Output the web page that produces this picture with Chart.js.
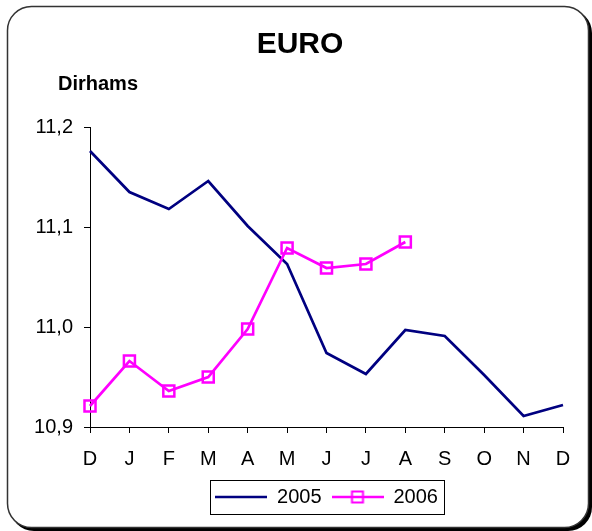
<!DOCTYPE html>
<html>
<head>
<meta charset="utf-8">
<script src="https://cdn.jsdelivr.net/npm/chart.js@4"></script>
<style>
  html, body { margin: 0; padding: 0; background: #fff; }
</style>
</head>
<body>
<canvas id="grafico" width="592" height="531"></canvas>
<script>
const meses = ['D', 'J', 'F', 'M', 'A', 'M', 'J', 'J', 'A', 'S', 'O', 'N', 'D'];
const euro2005 = [11.176, 11.135, 11.118, 11.146, 11.101, 11.063, 10.974, 10.953, 10.997, 10.991, 10.952, 10.911, 10.922];
const euro2006 = [10.921, 10.966, 10.936, 10.950, 10.998, 11.079, 11.059, 11.063, 11.085, null, null, null, null];
const ticksY = [10.9, 11.0, 11.1, 11.2];

const fuente = "'Liberation Sans', Arial, sans-serif";

// muestras de leyenda: linea (y cuadro para 2006)
function muestra(color, conCuadro) {
  const c = document.createElement('canvas');
  c.width = 52; c.height = 14;
  const g = c.getContext('2d');
  g.strokeStyle = color;
  g.lineWidth = 2.5;
  g.beginPath(); g.moveTo(0, 7); g.lineTo(52, 7); g.stroke();
  if (conCuadro) { g.lineWidth = 2; g.strokeRect(20.5, 1.5, 11, 11); }
  return c;
}
const muestras = [muestra('#000080', false), muestra('#FF00FF', true)];

// marco redondeado, titulo y "Dirhams"
const decorado = {
  id: 'decorado',
  beforeDraw(chart) {
    const ctx = chart.ctx;
    ctx.save();
    ctx.fillStyle = '#fff';
    ctx.fillRect(0, 0, chart.width, chart.height);
    ctx.fillStyle = '#000';
    ctx.beginPath();
    ctx.roundRect(10, 9, 582, 522, 24);
    ctx.fill();
    ctx.fillStyle = '#fff';
    ctx.strokeStyle = '#333';
    ctx.lineWidth = 1.5;
    ctx.beginPath();
    ctx.roundRect(7.5, 6.5, 581, 521, 24);
    ctx.fill();
    ctx.stroke();
    ctx.fillStyle = '#000';
    ctx.textBaseline = 'middle';
    ctx.textAlign = 'center';
    ctx.font = 'bold 30px ' + fuente;
    ctx.fillText('EURO', 300, 45);
    ctx.textAlign = 'left';
    ctx.font = 'bold 20px ' + fuente;
    ctx.fillText('Dirhams', 58, 84);
    ctx.restore();
  },
  afterDraw(chart) {
    const cajas = chart.legend.legendHitBoxes;
    if (!cajas || !cajas.length) return;
    const izq = Math.min(...cajas.map(b => b.left));
    const der = Math.max(...cajas.map(b => b.left + b.width));
    const cy = cajas[0].top + cajas[0].height / 2;
    const ctx = chart.ctx;
    ctx.save();
    ctx.strokeStyle = '#000';
    ctx.lineWidth = 1;
    ctx.strokeRect(Math.round(izq - 5) + 0.5, Math.round(cy - 17) + 0.5, Math.round(der - izq + 11), 34);
    ctx.restore();
  }
};

const ctx = document.getElementById('grafico').getContext('2d');
const grafico = new Chart(ctx, {
  type: 'line',
  data: {
    labels: meses,
    datasets: [
      {
        label: '2005',
        data: euro2005,
        borderColor: '#000080',
        borderWidth: 2.7,
        pointRadius: 0,
        tension: 0,
        order: 1
      },
      {
        label: '2006',
        data: euro2006,
        borderColor: '#FF00FF',
        backgroundColor: 'rgba(0,0,0,0)',
        borderWidth: 2.7,
        pointStyle: 'rect',
        pointRadius: 7.8,
        pointBorderWidth: 2.5,
        pointBorderColor: '#FF00FF',
        pointBackgroundColor: 'rgba(0,0,0,0)',
        tension: 0,
        spanGaps: false,
        order: 0
      }
    ]
  },
  options: {
    responsive: false,
    animation: false,
    devicePixelRatio: 1,
    layout: { padding: { left: 0, right: 29, top: 127, bottom: 14 } },
    plugins: {
      title: { display: false },
      tooltip: { enabled: false },
      legend: {
        position: 'bottom',
        fullSize: false,
        labels: {
          usePointStyle: true,
          pointStyleWidth: 52,
          boxHeight: 14,
          padding: 10,
          color: '#000',
          font: { family: fuente, size: 20 },
          sort: (a, b) => a.datasetIndex - b.datasetIndex,
          generateLabels(chart) {
            const items = Chart.defaults.plugins.legend.labels.generateLabels(chart);
            items.forEach(it => { it.pointStyle = muestras[it.datasetIndex]; });
            return items;
          }
        }
      }
    },
    scales: {
      x: {
        offset: false,
        grid: { display: true, drawOnChartArea: false, tickLength: 6, color: '#000', lineWidth: 1 },
        border: { display: true, color: '#000', width: 1 },
        ticks: { color: '#000', padding: 14, maxRotation: 0, autoSkip: false, font: { family: fuente, size: 20 } },
        afterFit(scale) { scale.height = 50; }
      },
      y: {
        min: 10.9,
        max: 11.2,
        grid: { display: true, drawOnChartArea: false, tickLength: 6, color: '#000', lineWidth: 1 },
        border: { display: true, color: '#000', width: 1 },
        afterBuildTicks(scale) { scale.ticks = ticksY.map(v => ({ value: v })); },
        ticks: {
          color: '#000',
          padding: 11,
          font: { family: fuente, size: 20 },
          callback: v => v.toFixed(1).replace('.', ',')
        },
        afterFit(scale) { scale.width = 90; }
      }
    }
  },
  plugins: [decorado]
});
</script>
</body>
</html>
